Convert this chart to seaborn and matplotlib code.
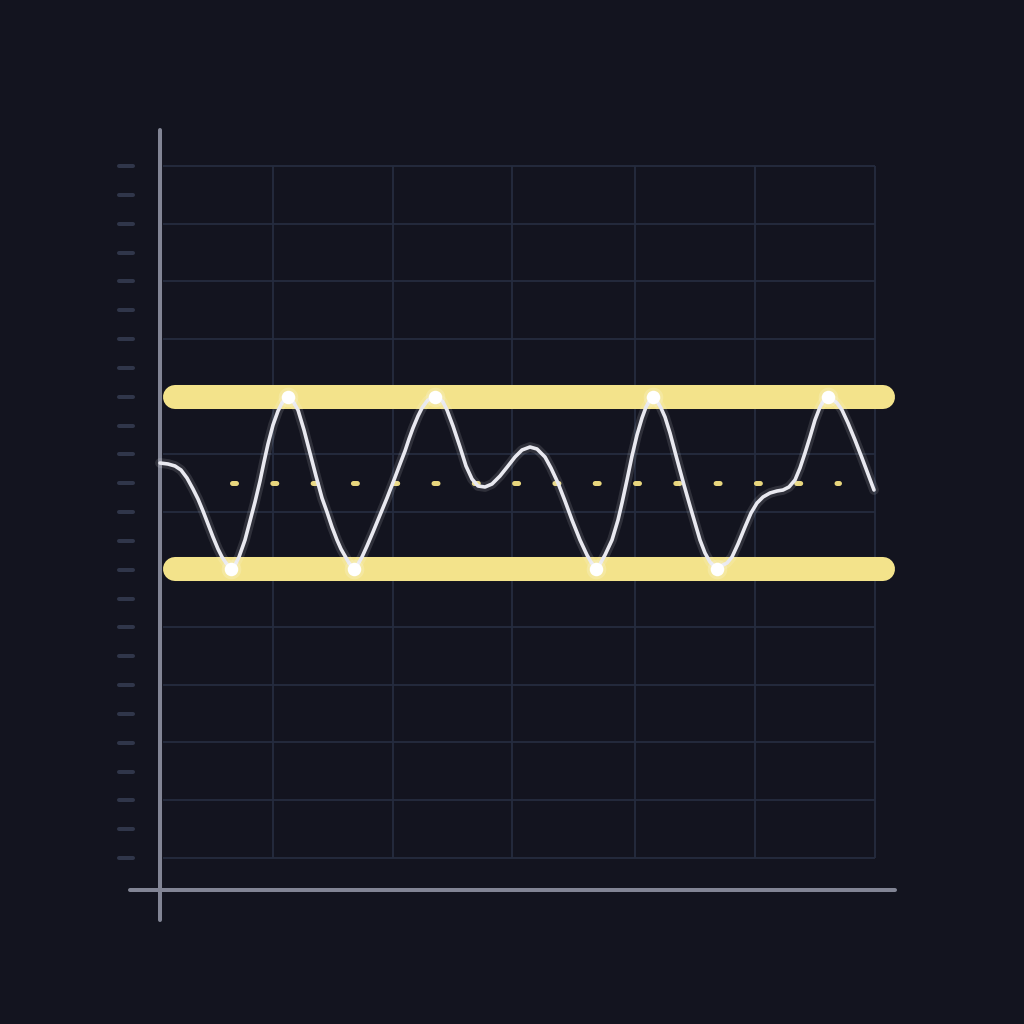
import numpy as np
import pandas as pd
import matplotlib
matplotlib.use("Agg")
import matplotlib.pyplot as plt
import seaborn as sns

# signal (x: time 0..715, y: offset from the mid level)
sig_x = [0, 8, 15, 21, 27, 33, 38, 43, 48, 53, 58, 62, 66, 71, 75, 79, 85, 90, 95, 100,
         104, 108, 113, 118, 122, 125, 128, 131, 134, 138, 144, 150, 156, 162, 167, 172,
         177, 181, 185, 189, 194, 198, 202, 207, 213, 220, 227, 234, 240, 245, 249, 253,
         258, 262, 267, 271, 275, 279, 283, 287, 293, 300, 306, 312, 318, 325, 332, 340,
         348, 355, 362, 370, 377, 385, 391, 398, 405, 412, 420, 427, 431, 436, 440, 445,
         452, 458, 462, 467, 472, 477, 482, 486, 490, 493, 497, 501, 505, 510, 514, 518,
         524, 530, 535, 540, 545, 550, 554, 557, 561, 567, 572, 578, 585, 591, 597, 603,
         610, 617, 623, 629, 635, 640, 645, 650, 655, 660, 664, 668, 672, 677, 682, 688,
         695, 702, 708, 714]
sig_y = [20, 19, 17, 13, 5, -6, -16, -28, -41, -54, -66, -74, -80, -86, -82, -74, -57, -38, -19, 2,
         21, 39, 58, 72, 80, 84, 86, 84, 80, 73, 53, 30, 7, -15, -29, -44,
         -57, -66, -73, -80, -86, -81, -74, -63, -49, -32, -15, 3, 19, 32, 44, 55,
         67, 75, 82, 85, 86, 85, 81, 73, 57, 36, 17, 4, -3, -4, -1, 7,
         17, 26, 33, 36, 34, 26, 15, 0, -18, -37, -57, -72, -79, -86, -81, -72,
         -57, -37, -20, 3, 27, 48, 65, 76, 83, 86, 82, 75, 66, 50, 35, 20,
         -2, -23, -40, -57, -70, -79, -83, -86, -83, -80, -74, -61, -44, -30, -20, -14,
         -10, -8, -7, -4, 3, 15, 30, 46, 63, 76, 83, 86, 84, 80, 73, 60,
         43, 25, 9, -7]

# peaks and troughs marked with dots
ext_x = [71, 128, 194, 275, 436, 493, 557, 668]
ext_y = [-86, 86, -86, 86, -86, 86, -86, 86]

upper_band = 86
lower_band = -86
band_x = [15, 723]
mid_level = 0
mid_x = [72, 679]

grid_x = [113, 233, 352, 475, 595, 715]
grid_y = [317, 259, 202, 144, 86, 29, -29, -86, -144, -202, -259, -317, -375]
tick_y = np.linspace(-375, 317, 25)

bg = "#13141f"
yellow = "#f3e38b"
grid_c = "#252c3f"
axis_c = "#828595"
tick_c = "#30364a"

sns.set_style("dark")
fig = plt.figure(figsize=(10.24, 10.24), dpi=100, facecolor=bg)
ax = fig.add_axes([0, 0, 1, 1])
ax.set_facecolor(bg)

# grid
ax.vlines(grid_x, -375, 317, color=grid_c, lw=1.3, zorder=1)
ax.hlines(grid_y, 3, 715, color=grid_c, lw=1.3, zorder=1)

# axis lines and left ticks
ax.plot([0, 0], [353, -437], color=axis_c, lw=2.9, solid_capstyle="round", zorder=3)
ax.plot([-30, 735], [-407, -407], color=axis_c, lw=2.9, solid_capstyle="round", zorder=3)
for ty in tick_y:
    ax.plot([-41, -27], [ty, ty], color=tick_c, lw=2.9, solid_capstyle="round", zorder=2)

# bands
for lvl in [upper_band, lower_band]:
    ax.plot(band_x, [lvl, lvl], color=yellow, lw=17.3, solid_capstyle="round", zorder=4)

# dotted mid level
ax.plot(mid_x, [mid_level, mid_level], color="#e8d67d", lw=3.6,
        linestyle=(0, (0.8, 7.26)), dash_capstyle="round", zorder=4)

df = pd.DataFrame({"t": sig_x, "v": sig_y})
sns.lineplot(data=df, x="t", y="v", ax=ax, color="white", lw=7, alpha=0.12,
             estimator=None, sort=False, zorder=5)
sns.lineplot(data=df, x="t", y="v", ax=ax, color="#e9e9f0", lw=2.6,
             estimator=None, sort=False, zorder=6)

ax.scatter(ext_x, ext_y, s=200, color="white", alpha=0.18, linewidths=0, zorder=7)
ax.scatter(ext_x, ext_y, s=95, color="white", linewidths=0, zorder=8)

ax.set_xlim(-160, 864)
ax.set_ylim(-541, 483)
ax.set_axis_off()
fig.savefig("out.png", dpi=100, facecolor=bg)
